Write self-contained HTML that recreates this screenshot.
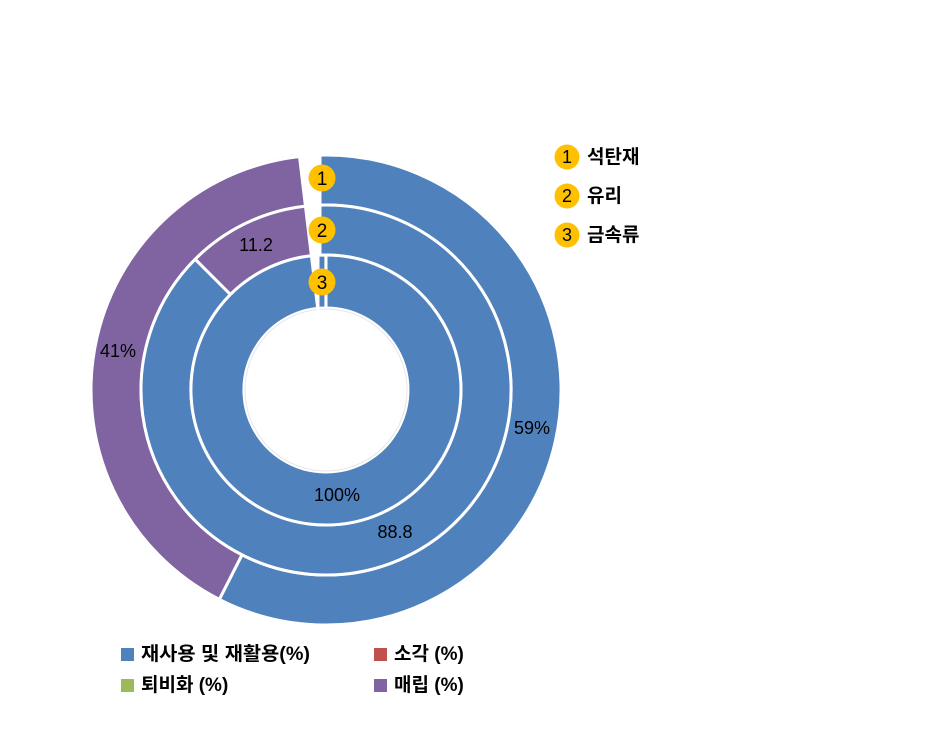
<!DOCTYPE html>
<html><head><meta charset="utf-8"><style>
body{margin:0;background:#fff;}
svg text{font-family:"Liberation Sans","Noto Sans CJK KR",sans-serif;}
</style></head><body>
<svg width="932" height="734" viewBox="0 0 932 734" xmlns="http://www.w3.org/2000/svg">
<circle cx="326" cy="390" r="236.5" fill="#e6e6ea"/>
<g stroke="#fff" stroke-width="3">
<path d="M320 155.1 A235 235 0 1 1 219.3 599.4 L242 554.8 A185 185 0 1 0 320 205.1 Z" fill="#4F81BD"/>
<path d="M219.3 599.4 A235 235 0 0 1 320 155.1 L320 205.1 A185 185 0 0 0 242 554.8 Z" fill="#8064A2"/>
<path d="M320 205.1 A185 185 0 1 1 195.2 259.2 L230.5 294.5 A135 135 0 1 0 320 255.1 Z" fill="#4F81BD"/>
<path d="M195.2 259.2 A185 185 0 0 1 320 205.1 L320 255.1 A135 135 0 0 0 230.5 294.5 Z" fill="#8064A2"/>
<path d="M326 255 A135 135 0 1 1 325.9 255 L325.9 308 A82 82 0 1 0 326 308 Z" fill="#4F81BD"/>
</g>
<circle cx="326" cy="390" r="81" fill="#fff" stroke="#e6e6ea" stroke-width="1"/>
<polygon points="319.5,140 296,140 326,390 319.5,390" fill="#fff"/>
<g font-size="18" fill="#000" text-anchor="middle">
<text x="532" y="434">59%</text>
<text x="118" y="357">41%</text>
<text x="256" y="251">11.2</text>
<text x="395" y="538">88.8</text>
<text x="337" y="501">100%</text>
</g>
<g fill="#FFC000"><circle cx="322" cy="178" r="13.5"/><circle cx="322" cy="230" r="13.5"/><circle cx="322" cy="282" r="13.5"/>
<circle cx="567" cy="157" r="12.5"/><circle cx="567" cy="196" r="12.5"/><circle cx="567" cy="235" r="12.5"/></g>
<g font-size="19" fill="#000" text-anchor="middle">
<text x="322" y="185">1</text><text x="322" y="237">2</text><text x="322" y="289">3</text>
<text x="567" y="163" font-size="18">1</text><text x="567" y="202" font-size="18">2</text><text x="567" y="241" font-size="18">3</text>
</g>
<g font-size="19" font-weight="bold" fill="#000">
<text x="587" y="163">석탄재</text><text x="587" y="202">유리</text><text x="587" y="241">금속류</text>
</g>
<rect x="121" y="648" width="13" height="13" fill="#4F81BD"/>
<rect x="121" y="679" width="13" height="13" fill="#9BBB59"/>
<rect x="374" y="648" width="13" height="13" fill="#C0504D"/>
<rect x="374" y="679" width="13" height="13" fill="#8064A2"/>
<g font-size="19" font-weight="bold" fill="#000">
<text x="141" y="660" textLength="169" lengthAdjust="spacingAndGlyphs">재사용 및 재활용(%)</text>
<text x="141" y="691">퇴비화 (%)</text>
<text x="394" y="660">소각 (%)</text>
<text x="394" y="691">매립 (%)</text>
</g>
</svg>
</body></html>
